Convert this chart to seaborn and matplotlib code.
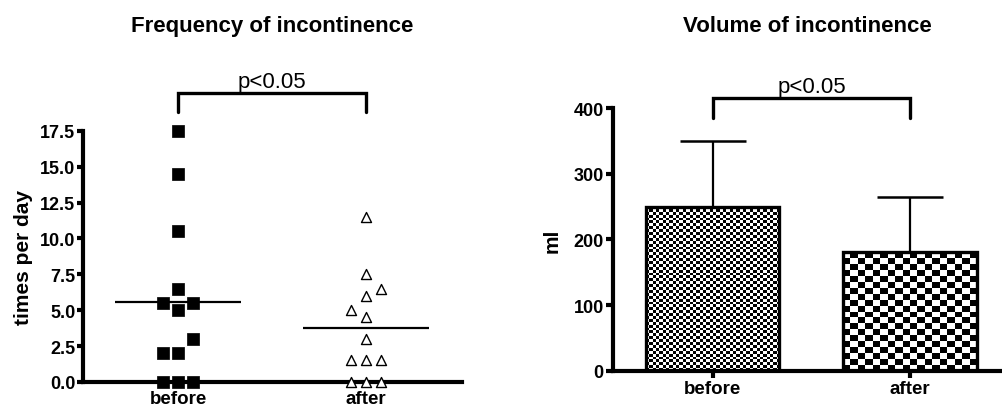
import numpy as np
import pandas as pd
import matplotlib
matplotlib.use("Agg")
import matplotlib.pyplot as plt
import seaborn as sns

groups = ["before", "after"]

# times per day
freq_before = [17.5, 14.5, 10.5, 6.5, 5.5, 5.5, 5.0, 3.0, 2.0, 2.0, 0.0, 0.0, 0.0]
freq_after = [11.5, 7.5, 6.5, 6.0, 5.0, 4.5, 3.0, 1.5, 1.5, 1.5, 0.0, 0.0, 0.0]
# column of each dot in the plot (-1 left, 0 centre, 1 right)
slot_before = [0, 0, 0, 0, -1, 1, 0, 1, -1, 0, -1, 0, 1]
slot_after = [0, 0, 1, 0, -1, 0, 0, -1, 0, 1, -1, 0, 1]

# volume in ml, mean and SD (upper bar only)
volume_mean = [250, 180]
volume_sd = [100, 85]

freq_ticks = [0, 2.5, 5, 7.5, 10, 12.5, 15, 17.5]
vol_ticks = [0, 100, 200, 300, 400]

SLOT_STEP = 0.082
AXIS_LW = 3


def style_axes(ax, tick_len):
    sns.despine(ax=ax)
    for side in ["left", "bottom"]:
        ax.spines[side].set_linewidth(AXIS_LW)
        ax.spines[side].set_color("black")
    ax.tick_params(axis="both", width=AXIS_LW, length=tick_len, pad=1.5,
                   labelsize=13, color="black", labelcolor="black")
    ax.tick_params(axis="x", labelsize=13.5, pad=2)


def bracket(ax, x0, x1, y_top, y_bottom, y_text, label):
    ax.plot([x0, x0, x1, x1], [y_bottom, y_top, y_top, y_bottom], color="black",
            lw=2.4, clip_on=False, solid_joinstyle="miter")
    ax.text((x0 + x1) / 2, y_text, label, ha="center", va="baseline",
            fontsize=16, fontweight="normal", color="black")


def checker_fill(ax, patch, cell_w, cell_h):
    x0, y0 = patch.get_x(), patch.get_y()
    x1, y1 = x0 + patch.get_width(), y0 + patch.get_height()
    p0 = ax.transData.transform((x0, y0))
    p1 = ax.transData.transform((x1, y1))
    nx = max(1, int(round(abs(p1[0] - p0[0]) / cell_w)))
    ny = max(1, int(round(abs(p1[1] - p0[1]) / cell_h)))
    grid = np.add.outer(np.arange(ny), np.arange(nx)) % 2
    img = ax.imshow(grid, cmap="gray", extent=(x0, x1, y0, y1), aspect="auto",
                    interpolation="nearest", zorder=2, origin="lower")
    img.set_clip_path(patch)


def plot_frequency(ax):
    df = pd.DataFrame({
        "group": ["before"] * len(freq_before) + ["after"] * len(freq_after),
        "value": freq_before + freq_after,
        "slot": slot_before + slot_after,
    })
    df["x"] = df["group"].map({g: i for i, g in enumerate(groups)}) + df["slot"] * SLOT_STEP

    sns.scatterplot(data=df[df["group"] == "before"], x="x", y="value", ax=ax,
                    marker="s", s=64, color="black", edgecolor="black",
                    linewidth=0.5, clip_on=False, zorder=3)
    sns.scatterplot(data=df[df["group"] == "after"], x="x", y="value", ax=ax,
                    marker="^", s=52, color="white", edgecolor="black",
                    linewidth=1.0, clip_on=False, zorder=3)

    means = df.groupby("group", sort=False)["value"].mean()
    for i, g in enumerate(groups):
        ax.hlines(means[g], i - 0.335, i + 0.335, color="black", lw=1.6, zorder=2,
                  clip_on=False)

    ax.set_xlim(-0.505, 1.51)
    ax.set_ylim(0, 17.5)
    ax.set_xticks(range(len(groups)))
    ax.set_xticklabels(groups)
    ax.set_yticks(freq_ticks)
    ax.set_yticklabels([f"{t:.1f}" for t in freq_ticks])
    ax.set_xlabel("")
    ax.set_ylabel("times per day", fontsize=15)
    ax.yaxis.set_label_coords(-0.132, 0.5)
    ax.set_title("Frequency of incontinence", fontsize=16, pad=72)
    style_axes(ax, 4)
    bracket(ax, 0, 1, 20.1, 18.8, 20.55, "p<0.05")


def plot_volume(ax):
    df = pd.DataFrame({"group": groups, "ml": volume_mean, "sd": volume_sd})
    sns.barplot(data=df, x="group", y="ml", order=groups, ax=ax, width=0.675,
                color="white", edgecolor="black", linewidth=2.4, errorbar=None,
                zorder=3)
    ax.set_xlim(-0.507, 1.466)
    ax.set_ylim(0, 400)

    cells = [(3.3, 2.9), (7.4, 6.0)]
    for patch, (cw, ch) in zip(ax.patches, cells):
        patch.set_facecolor("none")
        patch.set_zorder(3)
        checker_fill(ax, patch, cw, ch)

    ax.errorbar(range(len(groups)), df["ml"], yerr=[np.zeros(len(groups)), df["sd"]],
                fmt="none", ecolor="black", elinewidth=1.6, capsize=24, capthick=1.8,
                zorder=4)

    ax.set_xlim(-0.507, 1.466)
    ax.set_ylim(0, 400)
    ax.set_yticks(vol_ticks)
    ax.set_xlabel("")
    ax.set_ylabel("ml", fontsize=15)
    ax.yaxis.set_label_coords(-0.132, 0.5)
    ax.set_title("Volume of incontinence", fontsize=16, pad=55.5)
    style_axes(ax, 5)
    bracket(ax, 0, 1, 415, 384.6, 424, "p<0.05")


def main():
    sns.set_style("ticks")
    plt.rcParams["font.family"] = ["Liberation Sans", "DejaVu Sans"]
    plt.rcParams["font.weight"] = "bold"
    plt.rcParams["axes.titleweight"] = "bold"
    plt.rcParams["axes.labelweight"] = "bold"
    for key in ["text.color", "axes.labelcolor", "xtick.color", "ytick.color",
                "axes.edgecolor"]:
        plt.rcParams[key] = "black"

    fig = plt.figure(figsize=(10.02, 4.10), dpi=100)
    ax1 = fig.add_axes([83 / 1002, 27 / 410, 379 / 1002, 251.3 / 410])
    ax2 = fig.add_axes([612.7 / 1002, 38.3 / 410, 389.3 / 1002, 262.7 / 410])

    plot_frequency(ax1)
    plot_volume(ax2)

    fig.savefig("out.png", dpi=100, facecolor="white")
    plt.close(fig)


if __name__ == "__main__":
    main()
